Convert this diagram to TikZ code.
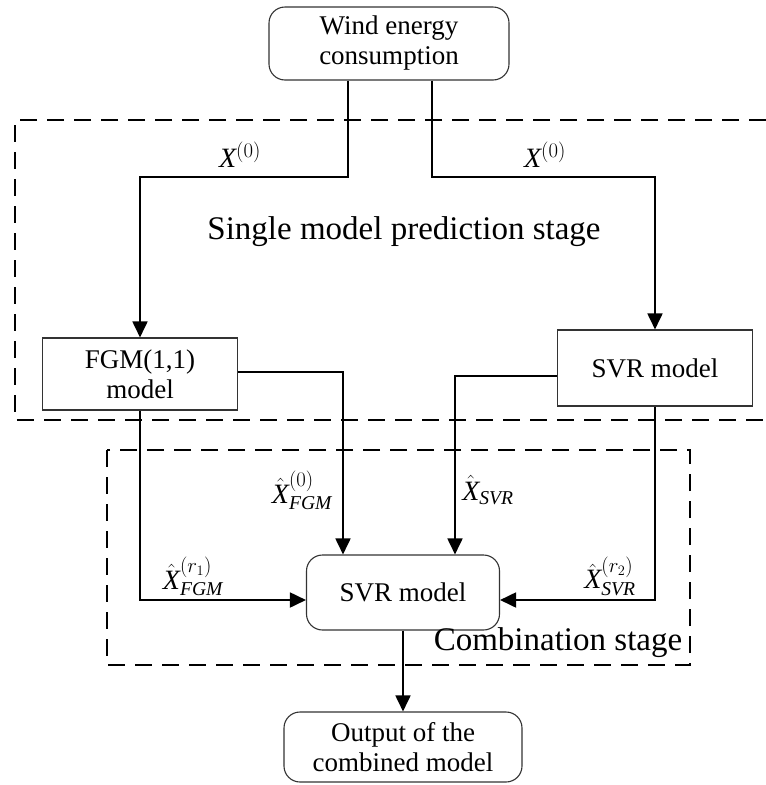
\documentclass[tikz,border=0pt]{standalone}
\usepackage{amsmath}
\usepackage{fontspec}
\setmainfont{Liberation Serif}
\usetikzlibrary{arrows.meta}
\newcommand{\itx}{\textit{X}}
\begin{document}
\begin{tikzpicture}[x=1pt,y=-1pt,
  box/.style={draw=black!80,line width=1.1pt,fill=white,align=center,inner sep=0pt,font=\fontsize{27}{30}\selectfont},
  rbox/.style={box,rounded corners=16pt},
  conn/.style={line width=1.8pt,-{Triangle[length=16pt,width=15pt]}},
  dbox/.style={line width=1.8pt,dash pattern=on 17pt off 10pt},
  lab/.style={font=\fontsize{28}{30}\selectfont,inner sep=1pt},
  stage/.style={font=\fontsize{33}{36}\selectfont}]
\useasboundingbox (0,0) rectangle (766,785);
% dashed stage boxes
\draw[dbox] (766,120) -- (15,120) -- (15,420) -- (766,420);
\draw[dbox] (107,450) rectangle (690,665);
% nodes
\node[rbox,minimum width=240pt,minimum height=73pt] (wind) at (389,43.5) {Wind energy\\consumption};
\node[box,minimum width=195pt,minimum height=72pt] (fgm) at (140,374) {FGM(1,1)\\model};
\node[box,minimum width=195pt,minimum height=76pt] (svr1) at (655,368) {SVR model};
\node[rbox,minimum width=193pt,minimum height=75pt] (comb) at (403,592.5) {SVR model};
\node[rbox,minimum width=238pt,minimum height=70pt] (out) at (403,747) {Output of the\\combined model};
% coordinates
\coordinate (w1) at (348,177);
\coordinate (w2) at (432,177);
\coordinate (f1) at (343,372);
\coordinate (s1) at (455,376);
\coordinate (f2) at (140,600);
\coordinate (s2) at (655,600);
% connectors
\draw[conn] (wind.south -| w1) -- (w1) -- (fgm.north |- w1) -- (fgm.north);
\draw[conn] (wind.south -| w2) -- (w2) -- (svr1.north |- w2) -- (svr1.north);
\draw[conn] (fgm.east |- f1) -- (f1) -- (comb.north -| f1);
\draw[conn] (svr1.west |- s1) -- (s1) -- (comb.north -| s1);
\draw[conn] (fgm.south) -- (f2) -- (comb.west |- f2);
\draw[conn] (svr1.south) -- (s2) -- (comb.east |- s2);
\draw[conn] (comb.south) -- (out.north);
% labels
\node[lab] (l1) at (240,155) {$\itx^{(0)}$};
\node[lab] (l2) at (545,155) {$\itx^{(0)}$};
\node[lab] (l3) at (302,490) {$\hat{\itx}^{(0)}_{\textit{FGM}}$};
\node[lab] (l4) at (488,490) {$\hat{\itx}_{\textit{SVR}}$};
\node[lab] (l5) at (193,576) {$\hat{\itx}^{(r_1)}_{\textit{FGM}}$};
\node[lab] (l6) at (610,576) {$\hat{\itx}^{(r_2)}_{\textit{SVR}}$};
\node[stage] (t1) at (404,232) {Single model prediction stage};
\node[stage] (t2) at (558,643) {Combination stage};
\end{tikzpicture}
\end{document}
